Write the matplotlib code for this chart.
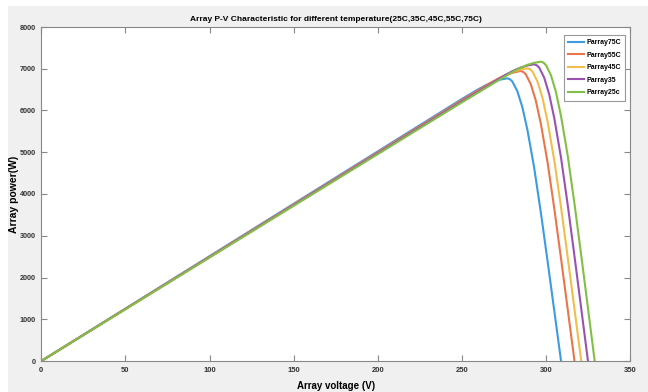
import matplotlib
matplotlib.use("Agg")
import matplotlib.pyplot as plt
from matplotlib.patches import Rectangle

plt.rcParams['font.family'] = ['Liberation Sans', 'DejaVu Sans']

# P-V curves (V in volts, P in watts)
v_75 = [0, 50, 100, 150, 200, 250, 259, 264, 269, 273, 277, 278.5, 280, 283, 286, 289, 293, 297, 301, 305, 309]
p_75 = [0, 1255, 2510, 3765, 5020, 6275, 6490, 6600, 6690, 6740, 6771, 6751, 6697, 6466, 6080, 5539, 4638, 3555, 2390, 1198, 0]

v_55 = [0, 50, 100, 150, 200, 250, 267, 272, 277, 281, 285, 286.5, 288, 291, 294, 297, 301, 305, 309, 313, 317]
p_55 = [0, 1250, 2500, 3750, 5000, 6250, 6662, 6773, 6863, 6913, 6946, 6925, 6870, 6633, 6238, 5682, 4758, 3647, 2452, 1229, 0]

v_45 = [0, 50, 100, 150, 200, 250, 271, 276, 281, 285, 289, 290.5, 292, 295, 298, 301, 305, 309, 313, 317, 321]
p_45 = [0, 1245, 2490, 3735, 4980, 6225, 6734, 6845, 6934, 6983, 7011, 6990, 6934, 6695, 6296, 5735, 4803, 3681, 2475, 1241, 0]

v_35 = [0, 50, 100, 150, 200, 250, 275, 280, 285, 289, 293, 294.5, 296, 299, 302, 305, 309, 313, 317, 321, 325]
p_35 = [0, 1245, 2489, 3734, 4978, 6223, 6831, 6941, 7030, 7078, 7106, 7085, 7028, 6786, 6381, 5813, 4868, 3731, 2508, 1258, 0]

v_25 = [0, 50, 100, 150, 200, 250, 279, 284, 289, 293, 297, 298.5, 300, 303, 306, 309, 313, 317, 321, 325, 329]
p_25 = [0, 1239, 2477, 3716, 4954, 6193, 6897, 7007, 7094, 7142, 7169, 7147, 7090, 6846, 6438, 5864, 4911, 3764, 2531, 1269, 0]

labels = ['Parray75C', 'Parray55C', 'Parray45C', 'Parray35', 'Parray25c']
colors = ['#3d9be0', '#e8764a', '#f2bd4a', '#9a52b0', '#82bf45']

xticks = [0, 50, 100, 150, 200, 250, 300, 350]
yticks = [0, 1000, 2000, 3000, 4000, 5000, 6000, 7000, 8000]

fig = plt.figure(figsize=(6.48, 3.92), dpi=100, facecolor='white')
# grey matlab-style window area
fig.patches.append(Rectangle((8 / 648, 0), 1, 1 - 6 / 392, transform=fig.transFigure,
                             facecolor='#f0f0f0', edgecolor='none', zorder=-1))

ax = fig.add_axes([41.3 / 648, 31 / 392, 588.7 / 648, 334 / 392])
ax.set_facecolor('white')

data = [(v_75, p_75), (v_55, p_55), (v_45, p_45), (v_35, p_35), (v_25, p_25)]
for (v, p), lab, c in zip(data, labels, colors):
    ax.plot(v, p, color=c, lw=1.5, label=lab)

ax.set_xlim(0, 350)
ax.set_ylim(0, 8000)
ax.set_xticks(xticks)
ax.set_yticks(yticks)
ax.tick_params(direction='in', length=4, width=0.8, color='#888888', labelsize=5.5,
               top=True, right=True, pad=4)
ax.tick_params(axis='y', pad=4, labelsize=5.2)
for lab in ax.get_xticklabels() + ax.get_yticklabels():
    lab.set_fontweight('bold')
    lab.set_color('#333333')
for s in ax.spines.values():
    s.set_color('#888888')
    s.set_linewidth(0.8)

title = ax.set_title('Array P-V Characteristic for different temperature(25C,35C,45C,55C,75C)',
                     fontsize=7, fontweight='bold', pad=4)
ax.set_xlabel('Array voltage (V)', fontsize=7, fontweight='bold')
ax.set_ylabel('Array power(W)', fontsize=7.5, fontweight='bold')
ax.xaxis.set_label_coords(0.5, -(381 - 361) / 334)
ax.yaxis.set_label_coords(-(41.3 - 19.5) / 588.7, 0.5)

leg = ax.legend(loc='upper right', bbox_to_anchor=(0.9915, 0.976), borderaxespad=0,
                fontsize=5, handlelength=2.3, handletextpad=0.3, labelspacing=0.8,
                borderpad=0.6, fancybox=False, framealpha=1)
leg.get_frame().set_edgecolor('#999999')
leg.get_frame().set_linewidth(0.8)
for t in leg.get_texts():
    t.set_fontweight('bold')

# shrink the title to the narrow width it has in the original
fig.canvas.draw()
w = title.get_window_extent().width
title.set_fontsize(title.get_fontsize() * 287 / w)

fig.savefig('out.png', dpi=100, facecolor=fig.get_facecolor())
